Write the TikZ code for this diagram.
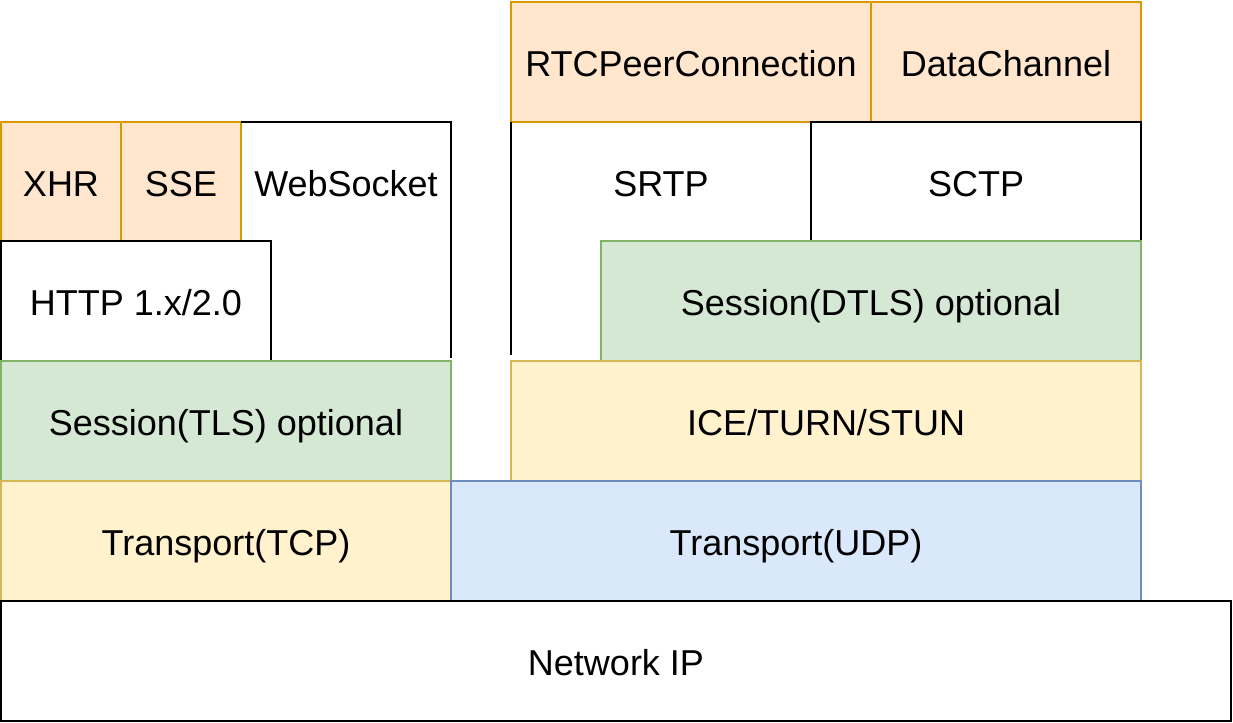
\documentclass[tikz,border=0pt]{standalone}
\usepackage{fontspec}
\setmainfont{Liberation Sans}
\definecolor{apifill}{HTML}{FFE6CC}
\definecolor{apiline}{HTML}{D79B00}
\definecolor{secfill}{HTML}{D5E8D4}
\definecolor{secline}{HTML}{82B366}
\definecolor{trfill}{HTML}{FFF2CC}
\definecolor{trline}{HTML}{D6B656}
\definecolor{udpfill}{HTML}{DAE8FC}
\definecolor{udpline}{HTML}{6C8EBF}
\tikzset{
  layer/.style = {rectangle, anchor = north west, inner sep = 0pt, outer sep = 0pt,
    line width = 1.25pt, text height = 16pt, text depth = 1.4pt,
    font = \fontsize{18}{21}\selectfont},
  plain/.style = {layer, draw = black, fill = white},
  api/.style = {layer, draw = apiline, fill = apifill},
  sec/.style = {layer, draw = secline, fill = secfill},
  tr/.style = {layer, draw = trline, fill = trfill},
  udp/.style = {layer, draw = udpline, fill = udpfill},
  open/.style = {layer}
}
\begin{document}
\begin{tikzpicture}[x = .5pt, y = -.5pt]
      \useasboundingbox (0,0) rectangle (1233,723);
      % browser side
      \node [api, minimum width = 60pt, minimum height = 59.5pt] (xhr) at (1,122) {XHR};
      \node [api, minimum width = 60pt, minimum height = 59.5pt] (sse) at (121,122) {SSE};
      \node [open, minimum width = 105pt, minimum height = 59.5pt] (ws) at (241,122) {WebSocket};
      \coordinate (wsend) at (451,358);
      \draw [line width = 1.25pt] (ws.north west) -- (ws.north east) -- (wsend);
      \node [plain, minimum width = 135pt, minimum height = 60pt] (http) at (1,241) {HTTP 1.x/2.0};
      \node [sec, minimum width = 225pt, minimum height = 60pt] (tls) at (1,361) {Session(TLS) optional};
      \node [tr, minimum width = 225pt, minimum height = 60pt] (tcp) at (1,481) {Transport(TCP)};
      % webrtc side
      \node [api, minimum width = 180pt, minimum height = 60pt] (peer) at (511,2) {RTCPeerConnection};
      \node [api, minimum width = 135pt, minimum height = 60pt] (chan) at (871,2) {DataChannel};
      \node [open, minimum width = 150pt, minimum height = 59.5pt] (srtp) at (511,122) {SRTP};
      \coordinate (srtpend) at (511,355);
      \draw [line width = 1.25pt] (srtp.north west) -- (srtpend);
      \node [plain, minimum width = 165pt, minimum height = 59.5pt] (sctp) at (811,122) {SCTP};
      \node [sec, minimum width = 270pt, minimum height = 60pt] (dtls) at (601,241) {Session(DTLS) optional};
      \node [tr, minimum width = 315pt, minimum height = 60pt] (ice) at (511,361) {ICE/TURN/STUN};
      \node [udp, minimum width = 345pt, minimum height = 60pt] (udp) at (451,481) {Transport(UDP)};
      % network
      \node [plain, minimum width = 615pt, minimum height = 60pt] (ip) at (1,601) {Network IP};
    \end{tikzpicture}
\end{document}
